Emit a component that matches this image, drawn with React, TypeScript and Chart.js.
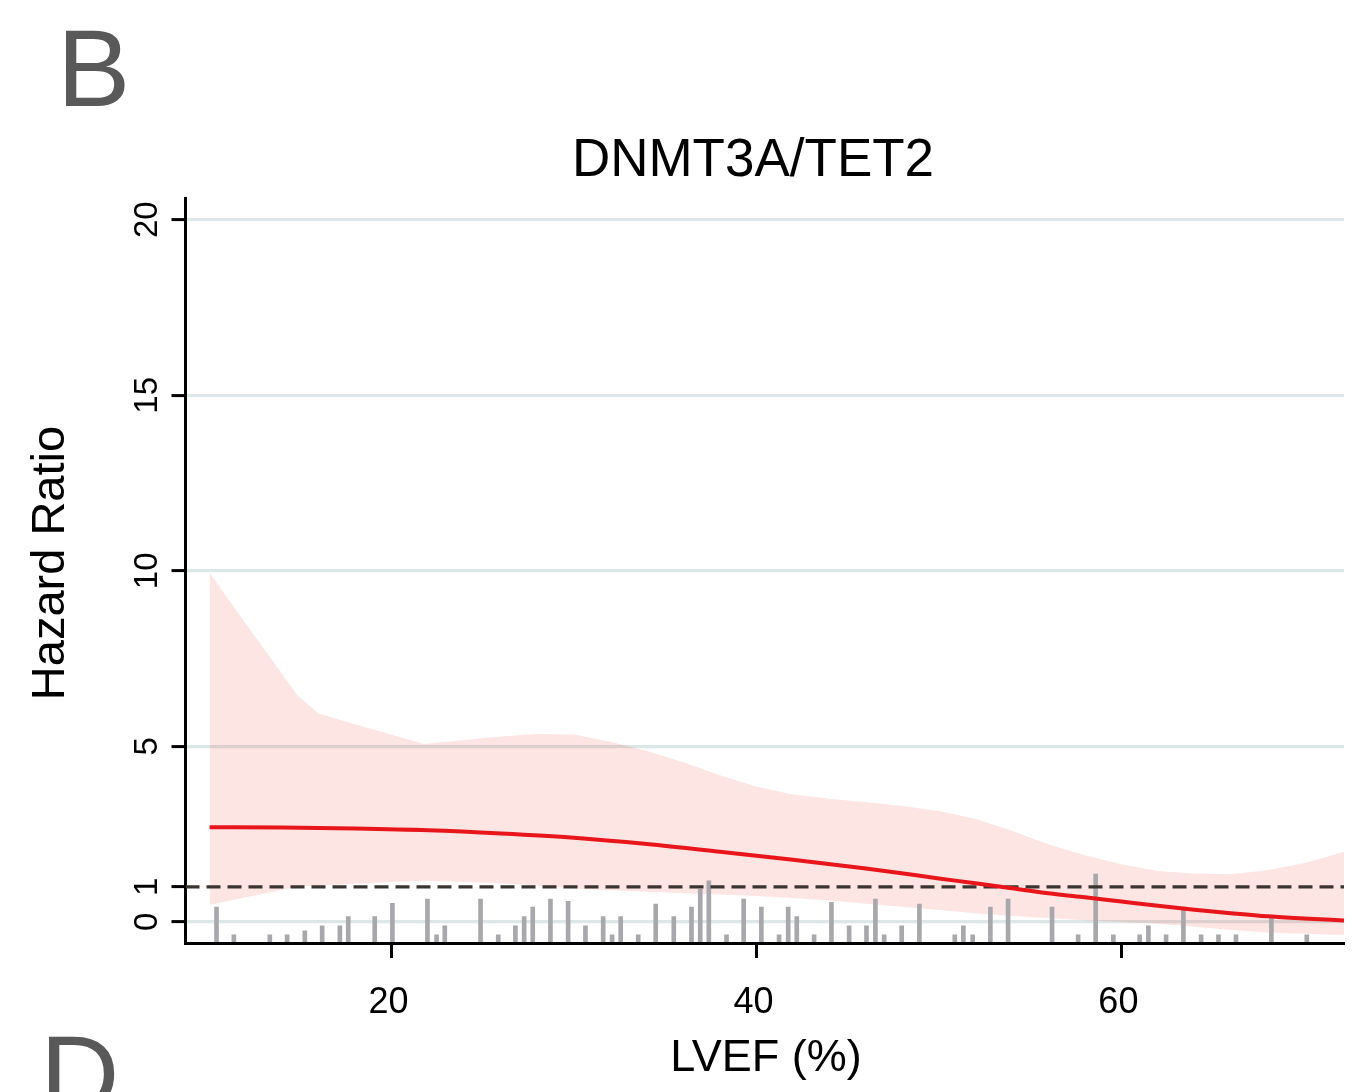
import React, { useEffect, useRef } from "react";
import { Chart, registerables } from "chart.js";

Chart.register(...registerables);

// ---- axis setup ----
const xTicks = [20, 40, 60];
const yTicks = [0, 1, 5, 10, 15, 20];
const xMin = 8.71;
const xMax = 72.2;
const yMin = -0.6;
const yMax = 20.62;
const refLine = 1;

// ---- hazard ratio curve (LVEF %, HR) ----
const curveX = [10.03, 14, 18, 22, 26, 30, 34, 38, 42, 46, 50, 52, 54, 56, 58, 60, 62, 64, 66, 68, 70, 72.2];
const curveHR = [2.7, 2.69, 2.66, 2.61, 2.52, 2.4, 2.22, 2.0, 1.77, 1.52, 1.24, 1.1, 0.96, 0.82, 0.7, 0.58, 0.46, 0.35, 0.25, 0.16, 0.1, 0.04];

// ---- confidence band ----
const bandX = [10.03, 12, 14.85, 16, 18, 20, 21.8, 24, 26, 28, 30, 32, 34, 36, 38, 40, 42, 44, 46, 48, 50, 52, 54, 56, 58, 60, 62, 64, 66, 68, 70, 72.2];
const bandUpper = [9.94, 8.51, 6.45, 5.94, 5.63, 5.33, 5.07, 5.18, 5.28, 5.35, 5.34, 5.13, 4.87, 4.55, 4.18, 3.85, 3.63, 3.51, 3.41, 3.3, 3.16, 2.94, 2.6, 2.21, 1.9, 1.64, 1.45, 1.38, 1.36, 1.47, 1.67, 1.99];
const bandLower = [0.48, 0.7, 1.0, 1.04, 1.09, 1.14, 1.17, 1.14, 1.1, 1.04, 0.95, 0.9, 0.86, 0.82, 0.78, 0.74, 0.68, 0.61, 0.52, 0.43, 0.34, 0.25, 0.17, 0.11, 0.05, 0.0, -0.05, -0.14, -0.23, -0.3, -0.34, -0.37];

// ---- rug / distribution spikes (LVEF %, top in HR units) ----
const rugBase = -0.56;
const rugX = [10.41, 11.36, 13.33, 14.28, 15.25, 16.2, 17.17, 17.63, 19.08, 20.05, 21.97, 22.47, 22.92, 24.88, 25.85, 26.79, 27.27, 27.74, 28.71, 29.68, 30.63, 31.6, 32.09, 32.56, 33.52, 34.48, 35.47, 36.44, 36.92, 37.39, 38.36, 39.3, 40.27, 41.24, 41.74, 42.21, 43.16, 44.11, 45.08, 46.03, 46.52, 47.0, 47.96, 48.93, 50.87, 51.34, 51.85, 52.82, 53.79, 56.2, 57.63, 58.59, 59.56, 61.0, 61.48, 62.45, 63.4, 64.37, 65.32, 66.28, 68.22, 70.16];
const rugTop = [0.42, -0.37, -0.37, -0.37, -0.25, -0.11, -0.11, 0.15, 0.15, 0.53, 0.65, -0.37, -0.11, 0.65, -0.37, -0.11, 0.15, 0.42, 0.65, 0.59, -0.11, 0.15, -0.37, 0.15, -0.37, 0.51, 0.15, 0.42, 0.93, 1.17, -0.37, 0.65, 0.42, -0.37, 0.42, 0.15, -0.37, 0.56, -0.11, -0.11, 0.65, -0.37, -0.11, 0.51, -0.37, -0.11, -0.37, 0.42, 0.65, 0.42, -0.37, 1.36, -0.37, -0.37, -0.11, -0.37, 0.42, -0.37, -0.37, -0.37, 0.15, -0.37];

// ---- text ----
const panelLetter = "B";
const nextPanelLetter = "D";
const chartTitle = "DNMT3A/TET2";
const xTitle = "LVEF (%)";
const yTitle = "Hazard Ratio";

const FONT = '"Liberation Sans", Arial, Helvetica, sans-serif';

const textPlugin = {
  id: "textPlugin",
  afterDraw(chart: any) {
    const ctx = chart.ctx as CanvasRenderingContext2D;
    const xs = chart.scales.x;
    const ys = chart.scales.y;
    ctx.save();
    // panel letters
    ctx.fillStyle = "#595959";
    ctx.font = `110px ${FONT}`;
    ctx.textAlign = "left";
    ctx.textBaseline = "alphabetic";
    ctx.fillText(panelLetter, 57, 106);
    ctx.fillText(nextPanelLetter, 40, 1112);

    ctx.fillStyle = "#000";
    // title
    ctx.font = `53px ${FONT}`;
    ctx.textAlign = "center";
    ctx.fillText(chartTitle, 753, 176);

    // x tick labels
    ctx.font = `36px ${FONT}`;
    for (const v of xTicks) {
      ctx.fillText(String(v), xs.getPixelForValue(v) - 3, 1013);
    }
    // x title
    ctx.font = `45px ${FONT}`;
    ctx.fillText(xTitle, 766, 1071);

    // y tick labels (rotated)
    ctx.font = `33px ${FONT}`;
    for (const v of yTicks) {
      ctx.save();
      ctx.translate(157, ys.getPixelForValue(v));
      ctx.rotate(-Math.PI / 2);
      ctx.textAlign = "center";
      ctx.fillText(String(v), 0, 0);
      ctx.restore();
    }
    // y title
    ctx.save();
    ctx.font = `47px ${FONT}`;
    ctx.translate(64, 563);
    ctx.rotate(-Math.PI / 2);
    ctx.textAlign = "center";
    ctx.fillText(yTitle, 0, 0);
    ctx.restore();

    ctx.restore();
  },
};

export default function App() {
  const ref = useRef<HTMLCanvasElement | null>(null);
  useEffect(() => {
    const canvas = ref.current;
    if (!canvas) return;
    const chart = new Chart(canvas, {
      type: "line",
      data: {
        datasets: [
          {
            label: "HR",
            data: curveX.map((x, i) => ({ x, y: curveHR[i] })),
            borderColor: "#e8151b",
            borderWidth: 4,
            pointRadius: 0,
            cubicInterpolationMode: "monotone",
            fill: false,
          },
          {
            label: "ref",
            data: [
              { x: xMin, y: refLine },
              { x: xMax, y: refLine },
            ],
            borderColor: "#3a3531",
            borderWidth: 3.4,
            borderDash: [14, 7],
            pointRadius: 0,
            fill: false,
          },
          {
            type: "bar",
            label: "rug",
            data: rugX.map((x, i) => ({ x, y: [rugBase, rugTop[i]] })),
            backgroundColor: "#a8a8ac",
            barThickness: 4,
          } as any,
          {
            label: "upper",
            data: bandX.map((x, i) => ({ x, y: bandUpper[i] })),
            borderColor: "rgba(0,0,0,0)",
            borderWidth: 0,
            pointRadius: 0,
            tension: 0,
            fill: "+1",
            backgroundColor: "rgba(235,10,0,0.105)",
          },
          {
            label: "lower",
            data: bandX.map((x, i) => ({ x, y: bandLower[i] })),
            borderColor: "rgba(0,0,0,0)",
            borderWidth: 0,
            pointRadius: 0,
            tension: 0,
            fill: false,
          },
        ],
      },
      options: {
        responsive: false,
        animation: false,
        devicePixelRatio: 1,
        layout: { padding: { top: 198, right: 25, bottom: 0, left: 0 } },
        plugins: {
          legend: { display: false },
          title: { display: false },
          tooltip: { enabled: false },
        },
        scales: {
          x: {
            type: "linear",
            min: xMin,
            max: xMax,
            offset: false,
            afterBuildTicks: (s: any) => {
              s.ticks = xTicks.map((v) => ({ value: v }));
            },
            afterFit: (s: any) => {
              s.height = 149;
            },
            ticks: { display: false },
            grid: {
              offset: false,
              drawOnChartArea: false,
              drawTicks: true,
              tickLength: 15,
              tickColor: "#000",
              tickWidth: 3,
            },
            border: { display: true, color: "#000", width: 3 },
          },
          y: {
            type: "linear",
            min: yMin,
            max: yMax,
            afterBuildTicks: (s: any) => {
              s.ticks = yTicks.map((v) => ({ value: v }));
            },
            afterFit: (s: any) => {
              s.width = 185.5;
            },
            ticks: { display: false },
            grid: {
              offset: false,
              color: (c: any) => (c.tick && c.tick.value === refLine ? "rgba(0,0,0,0)" : "#dde7e8"),
              lineWidth: 3.2,
              drawTicks: true,
              tickLength: 14,
              tickColor: "#000",
              tickWidth: 3,
            },
            border: { display: true, color: "#000", width: 3 },
          },
        },
      } as any,
      plugins: [textPlugin],
    });
    return () => chart.destroy();
  }, []);
  return (
    <div style={{ position: "absolute", left: 0, top: 0, width: 1369, height: 1092, background: "#fff" }}>
      <canvas ref={ref} width={1369} height={1092} style={{ display: "block" }} />
    </div>
  );
}
